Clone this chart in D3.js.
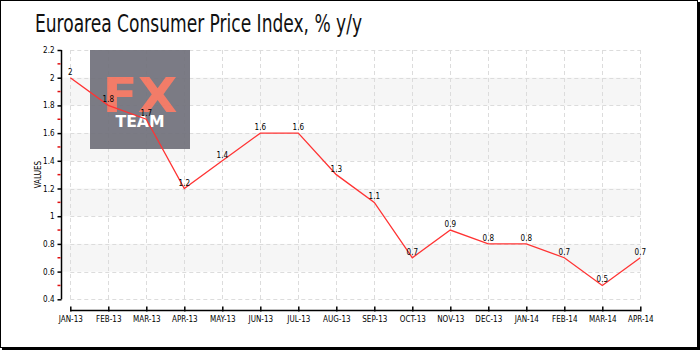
<!DOCTYPE html>
<html>
<head>
<meta charset="utf-8">
<script src="https://cdn.jsdelivr.net/npm/d3@7"></script>
<style>
  html, body { margin: 0; padding: 0; background: #fff; }
  svg { display: block; }
  text { font-family: "DejaVu Sans Condensed", "DejaVu Sans", sans-serif; }
</style>
</head>
<body>
<svg id="chart" width="700" height="350"></svg>
<script>
// Euro area HICP, year-on-year change (%)
const months = ["JAN-13","FEB-13","MAR-13","APR-13","MAY-13","JUN-13","JUL-13","AUG-13",
                "SEP-13","OCT-13","NOV-13","DEC-13","JAN-14","FEB-14","MAR-14","APR-14"];
const cpi = [2, 1.8, 1.7, 1.2, 1.4, 1.6, 1.6, 1.3, 1.1, 0.7, 0.9, 0.8, 0.8, 0.7, 0.5, 0.7];
const yTicks = [0.4, 0.6, 0.8, 1, 1.2, 1.4, 1.6, 1.8, 2, 2.2];
const yMinorTicks = [0.5, 0.7, 0.9, 1.1, 1.3, 1.5, 1.7, 1.9, 2.1];
const title = "Euroarea Consumer Price Index, % y/y";

const svg = d3.select("#chart");
const W = 700, H = 350;

// frame with a slight shadow on the right and bottom
svg.append("rect").attr("x", 0.5).attr("y", 0.5).attr("width", 697).attr("height", 347)
  .attr("fill", "#fff").attr("stroke", "#000").attr("stroke-width", 1);
svg.append("line").attr("x1", 699).attr("x2", 699).attr("y1", 2).attr("y2", 350)
  .attr("stroke", "#000").attr("stroke-width", 2);
svg.append("line").attr("x1", 2).attr("x2", 700).attr("y1", 349).attr("y2", 349)
  .attr("stroke", "#000").attr("stroke-width", 2);

svg.append("text").attr("x", 35).attr("y", 32)
  .attr("font-family", "'Liberation Sans Narrow', 'DejaVu Sans Condensed', sans-serif")
  .attr("font-size", 24).attr("fill", "#111")
  .attr("textLength", 327).attr("lengthAdjust", "spacingAndGlyphs")
  .text(title);

const x = d3.scalePoint().domain(months).range([70.3, 640.3]);
const y = d3.scaleLinear().domain([0.4, 2.2]).range([299.3, 50]);
const xL = 61, xR = 641;

// alternating horizontal bands
const bands = [[1.8, 2.0], [1.4, 1.6], [1.0, 1.2], [0.6, 0.8]];
svg.append("g").selectAll("rect").data(bands).join("rect")
  .attr("x", xL).attr("width", xR - xL)
  .attr("y", d => y(d[1])).attr("height", d => y(d[0]) - y(d[1]))
  .attr("fill", "#f6f6f6");

// dashed grid
const grid = svg.append("g").attr("stroke", "#dcdcdc").attr("stroke-dasharray", "4,3").attr("stroke-width", 1);
grid.selectAll(".h").data(yTicks).join("line").attr("class", "h")
  .attr("x1", x(months[0])).attr("x2", x(months[months.length - 1]))
  .attr("y1", d => Math.round(y(d)) + 0.5).attr("y2", d => Math.round(y(d)) + 0.5);
grid.selectAll(".v").data(months).join("line").attr("class", "v")
  .attr("x1", d => Math.round(x(d)) + 0.5).attr("x2", d => Math.round(x(d)) + 0.5)
  .attr("y1", y(2.2)).attr("y2", y(0.4));

// FX TEAM badge
const logo = svg.append("g").attr("opacity", 0.93);
logo.append("rect").attr("x", 90).attr("y", 50).attr("width", 100).attr("height", 99).attr("fill", "#72727c");
logo.append("text").attr("x", 140).attr("y", 112).attr("text-anchor", "middle")
  .attr("font-family", "'DejaVu Sans', sans-serif").attr("font-weight", "bold")
  .attr("font-size", 48).attr("fill", "#f2735e")
  .attr("textLength", 75).attr("lengthAdjust", "spacingAndGlyphs").text("FX");
logo.append("text").attr("x", 140).attr("y", 127).attr("text-anchor", "middle")
  .attr("font-family", "'DejaVu Sans', sans-serif").attr("font-weight", "bold")
  .attr("font-size", 15).attr("fill", "#ffffff")
  .attr("textLength", 49).attr("lengthAdjust", "spacingAndGlyphs").text("TEAM");

// y axis
const yAxis = d3.axisLeft(y).tickValues(yTicks).tickSize(4).tickPadding(3)
  .tickFormat(d => d3.format("~g")(d));
const gy = svg.append("g").attr("transform", `translate(${xL + 0.5},0)`).call(yAxis);
gy.select(".domain").attr("d", `M0,${y(2.2)}V${y(0.4)}`).attr("stroke", "#000").attr("stroke-width", 1.5);
gy.selectAll(".tick line").attr("stroke", "#000").attr("stroke-width", 1.5);
gy.selectAll(".tick text").attr("font-size", 8).attr("fill", "#000")
  .attr("font-family", "'DejaVu Sans Condensed', sans-serif");
svg.append("g").selectAll("line").data(yMinorTicks).join("line")
  .attr("x1", xL - 3.5).attr("x2", xL - 0.5)
  .attr("y1", d => y(d)).attr("y2", d => y(d))
  .attr("stroke", "#e01010").attr("stroke-width", 1.5);

svg.append("text").attr("transform", `translate(41,${(y(2.2) + y(0.4)) / 2}) rotate(-90)`)
  .attr("text-anchor", "middle").attr("font-size", 8).attr("fill", "#000")
  .text("VALUES");

// x axis
const xAxis = d3.axisBottom(x).tickSize(0).tickPadding(6);
const gx = svg.append("g").attr("transform", "translate(0,310.5)").call(xAxis);
gx.select(".domain").attr("d", `M${x(months[0])},0H${x(months[months.length - 1])}`)
  .attr("stroke", "#000").attr("stroke-width", 1.5);
gx.selectAll(".tick line").remove();
gx.selectAll(".tick").append("line").attr("y1", -4).attr("y2", 1)
  .attr("stroke", "#000").attr("stroke-width", 1.5);
gx.selectAll(".tick text").attr("font-size", 8).attr("fill", "#000")
  .attr("font-family", "'DejaVu Sans Condensed', sans-serif");

// CPI line
const line = d3.line().x((d, i) => x(months[i])).y(d => y(d));
svg.append("path").datum(cpi).attr("d", line)
  .attr("fill", "none").attr("stroke", "#ff3333").attr("stroke-width", 1.3);

// value labels
svg.append("g").selectAll("text").data(cpi).join("text")
  .attr("x", (d, i) => x(months[i])).attr("y", d => y(d) - 3)
  .attr("text-anchor", "middle").attr("font-size", 8).attr("fill", "#000")
  .text(d => d3.format("~g")(d));
</script>
</body>
</html>
